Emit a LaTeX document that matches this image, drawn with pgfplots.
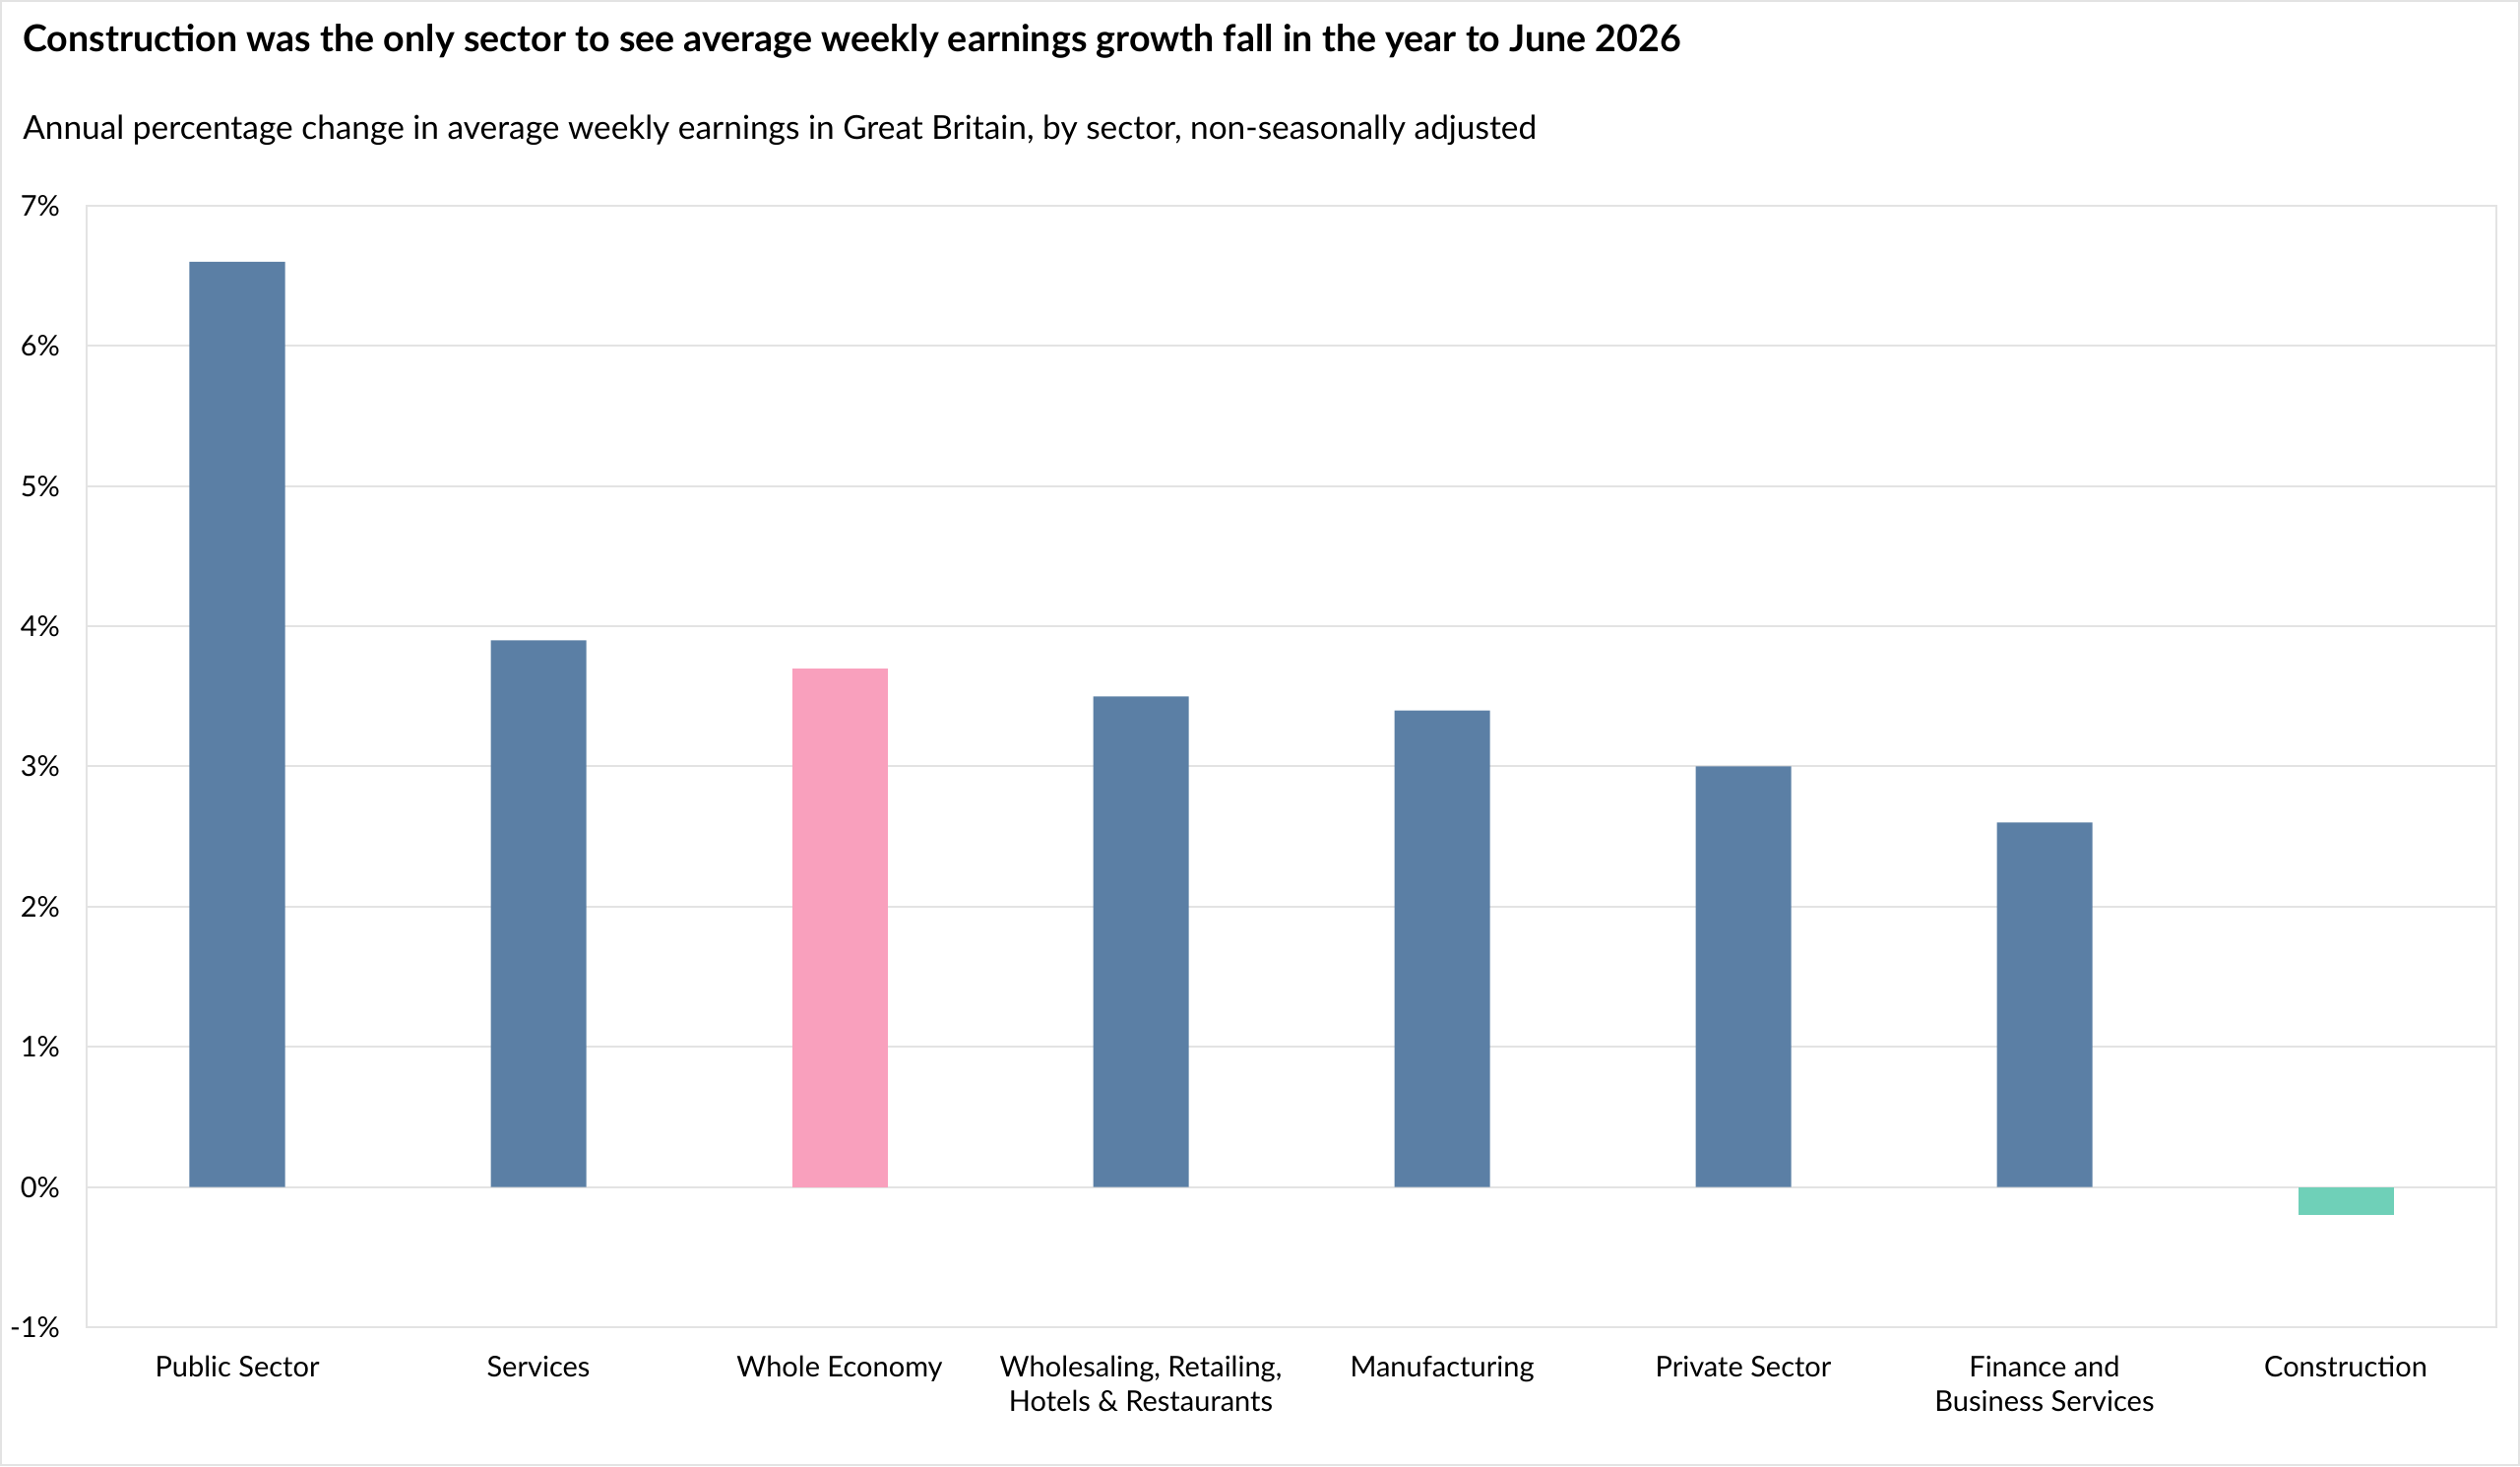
\documentclass[border=0pt]{standalone}
\usepackage{pgfplots}
\pgfplotsset{compat=1.18}
\usepackage{fontspec}
\setmainfont{Lato}
\definecolor{barblue}{HTML}{5B7FA5}
\definecolor{barpink}{HTML}{F9A0BD}
\definecolor{barteal}{HTML}{6FD0B8}
\definecolor{gridg}{HTML}{E3E3E3}
\begin{document}
\begin{tikzpicture}
\useasboundingbox (0,0) rectangle (1280pt,744.5pt);
\draw[gridg,line width=1.2pt] (0.6pt,0.6pt) rectangle (1279.4pt,743.9pt);
\node[inner sep=0pt,anchor=base west,font=\fontsize{18.8}{22}\selectfont\bfseries] at (11.5pt,718pt) {Construction was the only sector to see average weekly earnings growth fall in the year to June 2026};
\node[inner sep=0pt,anchor=base west,font=\fontsize{16.7}{20}\selectfont] at (11.5pt,673.5pt) {Annual percentage change in average weekly earnings in Great Britain, by sector, non-seasonally adjusted};
\begin{axis}[
  at={(44pt,70.5pt)}, anchor=south west,
  scale only axis, width=1224pt, height=569.5pt,
  xmin=-0.5, xmax=7.5, ymin=-1, ymax=7,
  ybar, bar width=48.5pt,
  axis line style={gridg, line width=1pt},
  ymajorgrids, grid style={gridg, line width=1pt},
  major tick length=0pt,
  ytick={-1,0,1,2,3,4,5,6,7},
  yticklabels={-1\%,0\%,1\%,2\%,3\%,4\%,5\%,6\%,7\%},
  xtick={0,1,2,3,4,5,6,7},
  xticklabels={Public Sector,Services,Whole Economy,{Wholesaling, Retailing,\\Hotels \& Restaurants},Manufacturing,Private Sector,{Finance and\\Business Services},Construction},
  x tick label style={align=center, font=\fontsize{14.5}{17.5}\selectfont, anchor=north, yshift=-11pt},
  y tick label style={font=\fontsize{14.5}{17.5}\selectfont, anchor=east, xshift=-10pt},
  /pgf/number format/assume math mode=true,
]
\addplot[fill=barblue, draw=none, bar shift=0pt] coordinates {(0,6.6) (1,3.9) (3,3.5) (4,3.4) (5,3.0) (6,2.6)};
\addplot[fill=barpink, draw=none, bar shift=0pt] coordinates {(2,3.7)};
\addplot[fill=barteal, draw=none, bar shift=0pt] coordinates {(7,-0.2)};
\end{axis}
\end{tikzpicture}
\end{document}
